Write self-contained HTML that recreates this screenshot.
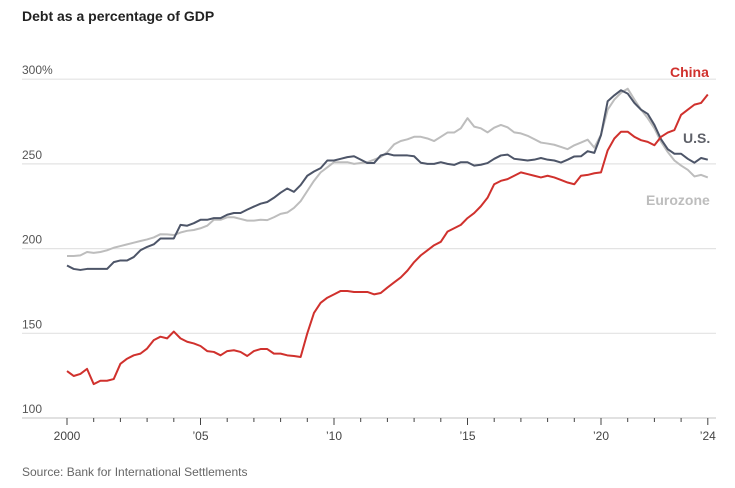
<!DOCTYPE html>
<html><head><meta charset="utf-8"><style>
body{margin:0;background:#fff;width:735px;height:483px;overflow:hidden;font-family:"Liberation Sans",sans-serif;}
svg text{font-family:"Liberation Sans",sans-serif;}
</style></head><body>
<svg id="chart" width="735" height="483" viewBox="0 0 735 483">
<text x="22" y="21" font-size="14" font-weight="bold" fill="#222">Debt as a percentage of GDP</text>
<text x="22" y="476" font-size="12" fill="#666">Source: Bank for International Settlements</text>
<g id="grid"></g><g id="xaxis"></g><g id="lines"></g>
<text x="670" y="77" font-size="14" font-weight="bold" fill="#d0312d">China</text>
<text x="683" y="143" font-size="14" font-weight="bold" fill="#5f6169">U.S.</text>
<text x="646" y="205" font-size="14" font-weight="bold" fill="#bdbdbd">Eurozone</text>
</svg>
<script>
const startYear = 2000;
const yTicks = [100,150,200,250,300];
const yTickLabels = ["100","150","200","250","300%"];
const xTickYears = [2000,2005,2010,2015,2020,2024];
const xTickLabels = ["2000","’05","’10","’15","’20","’24"];
const usValues = [190,188,187.4,188, 188,188,188,192, 193,193,195,199, 201,202.5,206,206, 206,214,213.5,215, 217,217,218,218, 220,221,221,223, 224.8,226.5,227.5,230, 233,235.5,233.5,237.5, 243,245.5,247.5,252, 252,253,254,254.5, 252.5,250.5,250.5,255, 256,255,255,255, 254.5,250.7,250,250, 251,250,249.4,251, 251,249,249.5,250.5, 253,255,255.5,253, 252.5,252,252.5,253.5, 252.5,252,250.8,252.5, 254.4,254.5,257.5,256.5, 267,287,290.5,293.5, 291.5,286,282,279.5, 273,264.5,258.7,256, 256,253,250.7,253.5, 252.5];
const chinaValues = [127.7,124.8,126,129, 120,122,122,123, 132,135,137,138, 141,146,148,147, 151,147,145,144, 142.5,139.5,139,137, 139.5,140,139,136.6, 139.5,140.7,140.7,138, 138,137,136.6,136, 150,162,168,171, 173,175,175,174.4, 174.4,174.4,173,173.8, 177,180,183,187, 192,196,199,202, 204,210,212,214, 218,221,225,230, 238,240,241,243, 245,244,243,242, 243,242,240.5,239, 238,243,243.5,244.5, 245,258,265,269, 269,266,264,263, 261,266,268.5,270, 279,282,285,286, 291];
const euroValues = [195.6,195.6,196,198, 197.5,198,199,200.5, 201.5,202.5,203.5,204.5, 205.4,206.6,208.5,208.4, 208,209.5,210.5,211, 212,213.5,217,217, 218.5,218.5,217.5,216.5, 216.5,217,216.8,218.5, 220.5,221.3,224,228, 234,240,245,248, 251,251,251,250, 250.5,251,252.5,254, 257,261.5,263.5,264.5, 266,266,265,263.5, 266,268.5,268.5,271, 277,272,271,268.6, 271.4,273,271.6,268.6, 268,266.6,264.6,262.6, 262,261.3,260,258.7, 261,262.6,264.3,259.6, 267.2,282,288,292, 294.4,288,282,277, 271,263,257,252, 249,246.5,242.6,243.5, 242];

const NS="http://www.w3.org/2000/svg";
const X0=67, PXY=26.7, Y0=418, PXV=1.694;
const xs=t=>X0+(t-startYear)*PXY;
const ys=v=>Y0-(v-100)*PXV;
function mk(tag,attrs,parent){const e=document.createElementNS(NS,tag);for(const k in attrs)e.setAttribute(k,attrs[k]);parent.appendChild(e);return e;}
const grid=document.getElementById('grid');
yTicks.forEach((v,i)=>{
  const l=mk('line',{x1:22,x2:716,y1:ys(v),y2:ys(v),stroke:i===0?'#cfcfcf':'#e3e3e3','stroke-width':1.2},grid);
  
  
  const t=mk('text',{x:22,y:ys(v)-5,'font-size':12,fill:'#555'},grid);
  t.textContent=yTickLabels[i];
  
  
});
const xa=document.getElementById('xaxis');
for(let y=2000;y<=2024;y++){
  const major=xTickYears.includes(y);
  const tk=mk('line',{x1:xs(y),x2:xs(y),y1:Y0,y2:Y0+(major?7:4),stroke:'#444','stroke-width':1},xa);
  
  
}
xTickYears.forEach((y,i)=>{
  const t=mk('text',{x:xs(y),y:440,'font-size':12,fill:'#444','text-anchor':'middle'},xa);
  t.textContent=xTickLabels[i];
  
  
});
const lines=document.getElementById('lines');
function drawSeries(vals,color,name){
  const d=vals.map((v,i)=>(i?'L':'M')+xs(startYear+i/4).toFixed(2)+','+ys(v).toFixed(2)).join('');
  const p=mk('path',{d:d,fill:'none',stroke:color,'stroke-width':2,'stroke-linejoin':'round'},lines);
  
  
}
drawSeries(euroValues,'#bdbdbd','eurozone-line');
drawSeries(usValues,'#4d5568','us-line');
drawSeries(chinaValues,'#d0312d','china-line');
</script>
</body></html>
